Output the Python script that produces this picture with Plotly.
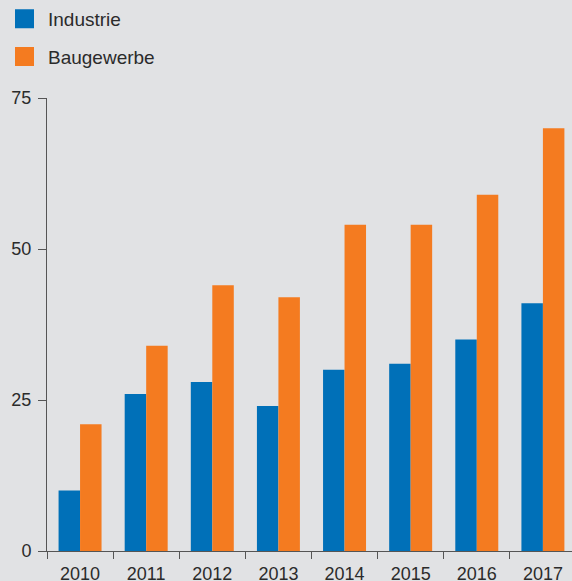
"script to produce the Industrie / Baugewerbe bar chart."

import plotly.graph_objects as go

years = ["2010", "2011", "2012", "2013", "2014", "2015", "2016", "2017"]
industrie = [10, 26, 28, 24, 30, 31, 35, 41]
baugewerbe = [21, 34, 44, 42, 54, 54, 59, 70]
y_ticks = [0, 25, 50, 75]

BLUE = "#0070b8"
ORANGE = "#f47b20"
BG = "#e1e2e4"
TEXT = "#2b2b2b"
FONT = "Liberation Sans Narrow, Arial Narrow, Liberation Sans, sans-serif"

fig = go.Figure()
for name, vals, color in [("Industrie", industrie, BLUE), ("Baugewerbe", baugewerbe, ORANGE)]:
    fig.add_bar(x=years, y=vals, name=name, marker_color=color,
                marker_line_width=0, showlegend=False)
    # legend entry with a bigger square than plotly's bar icon
    fig.add_scatter(
        x=[None], y=[None], mode="markers", name=name, legendgroup=name,
        marker={"symbol": "square", "size": 16, "color": color,
                "line": {"color": color, "width": 3}},
    )

fig.update_layout(
    template="none",
    width=572,
    height=581,
    margin={"l": 47, "r": 0, "t": 98, "b": 30, "autoexpand": False},
    paper_bgcolor=BG,
    plot_bgcolor=BG,
    font={"family": FONT, "size": 17, "color": TEXT},
    barmode="group",
    bargap=0.35,
    bargroupgap=0,
    legend={
        "x": 1 / 572, "y": 1, "xref": "container", "yref": "container",
        "xanchor": "left", "yanchor": "top",
        "bgcolor": "rgba(0,0,0,0)", "tracegroupgap": 10,
        "font": {"size": 19}, "itemsizing": "trace", "itemwidth": 37,
    },
)
fig.update_xaxes(
    type="category",
    range=[-0.5, 7.44],
    showline=True, linecolor="#555", linewidth=1,
    ticks="outside", tickson="boundaries", ticklen=7, tickcolor="#555",
    showgrid=False, zeroline=False,
    tickfont={"size": 18}, ticklabelstandoff=6,
)
fig.update_yaxes(
    range=[0, 75],
    tickvals=y_ticks,
    showline=True, linecolor="#555", linewidth=1,
    ticks="outside", ticklen=8, tickcolor="#555",
    showgrid=False, zeroline=False,
    tickfont={"size": 18}, ticklabelstandoff=3,
)

fig.write_html("out.html", config={"displayModeBar": False},
               post_script="document.body.style.margin='0';")
